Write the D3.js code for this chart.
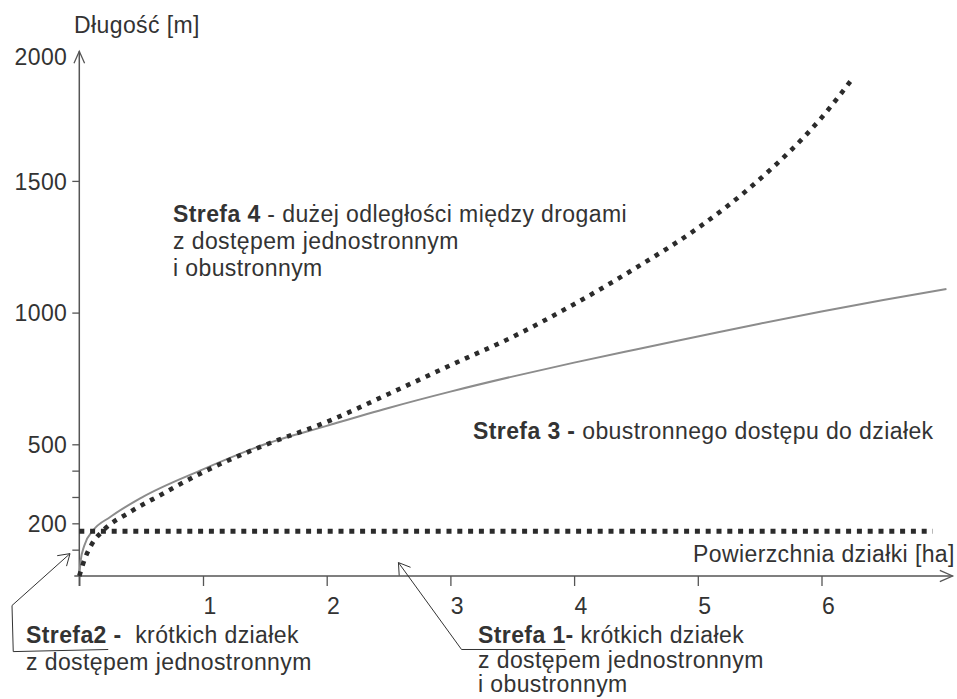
<!DOCTYPE html>
<html><head><meta charset="utf-8">
<script src="https://cdn.jsdelivr.net/npm/d3@7"></script>
<style>
html,body{margin:0;padding:0;background:#fff;}
svg text{font-family:"Liberation Sans",Arial,Helvetica,sans-serif;font-size:23px;letter-spacing:0.4px;fill:#333;white-space:pre;}
</style></head><body>
<svg id="c" width="957" height="699"></svg>
<script>
// ---- data ----
const zone3Ha     = [0, 0.01, 0.04, 0.11, 0.25, 0.5, 1, 1.5, 2, 2.5, 3, 3.5, 4, 4.5, 5, 5.5, 6, 6.5, 7.01];
const zone3Length = [0, 55, 115, 172, 224, 297, 405, 500, 570, 638, 700, 757, 810, 860, 909, 958, 1004, 1048, 1090];
const zone4Ha     = [0, 0.05, 0.1, 0.2, 0.4, 0.65, 1, 1.5, 2, 2.5, 3, 3.5, 4, 4.5, 5, 5.5, 6, 6.26];
const zone4Length = [0, 72, 120, 176, 240, 306, 394, 497, 585, 691, 800, 907, 1032, 1170, 1321, 1506, 1740, 1894];
const shortHa     = [0, 6.9];
const shortLength = [170, 170];
const xTickValues = [0, 1, 2, 3, 4, 5, 6];
const xTickLabels = ["", "1", "2", "3", "4", "5", "6"];
const yTickValues = [100, 200, 300, 400, 500, 1000, 1500, 2000];
const yTickLabels = ["", "200", "", "", "500", "1000", "1500", "2000"];
const yAxisTitle = "Długość [m]";
const xAxisTitle = "Powierzchnia działki [ha]";

// ---- scales ----
const svg = d3.select("#c");
const x = d3.scaleLinear().domain([0, 7]).range([79.3, 945.2]);
const y = d3.scaleLinear().domain([0, 2000]).range([576, 49.2]);

const axisColor = "#555";

// x axis
const xAxis = d3.axisBottom(x).tickValues(xTickValues).tickSize(10)
  .tickFormat((d, i) => xTickLabels[i]);
const gx = svg.append("g").attr("transform", `translate(0,${y(0)})`).call(xAxis);
gx.select(".domain").remove();
gx.selectAll(".tick line").attr("stroke", axisColor).attr("stroke-width", 1.3);
gx.selectAll(".tick text").attr("fill", "#333").attr("font-size", null)
  .attr("font-family", null).attr("y", 38).attr("dy", 0).attr("x", 6.5);

// y axis
const yAxis = d3.axisLeft(y).tickValues(yTickValues).tickSize(7).tickPadding(5)
  .tickFormat((d, i) => yTickLabels[i]);
const gy = svg.append("g").attr("transform", `translate(${x(0)},0)`).call(yAxis);
gy.select(".domain").remove();
gy.selectAll(".tick line").attr("stroke", axisColor).attr("stroke-width", 1.3)
  .filter(d => d === 2000).remove();
gy.selectAll(".tick text").attr("fill", "#333").attr("font-size", null)
  .attr("font-family", null).attr("dy", "0.36em")
  .filter(d => d === 2000).attr("dy", "0.68em");

// axis lines with open arrows
function arrowHead(g, tip, from, len, ang, color, w) {
  const a = Math.atan2(from[1] - tip[1], from[0] - tip[0]);
  const p1 = [tip[0] + len * Math.cos(a + ang), tip[1] + len * Math.sin(a + ang)];
  const p2 = [tip[0] + len * Math.cos(a - ang), tip[1] + len * Math.sin(a - ang)];
  g.append("path").attr("d", `M${p1}L${tip}L${p2}`).attr("fill", "none")
    .attr("stroke", color).attr("stroke-width", w);
}
const axes = svg.append("g");
const xStart = [x(0) - 5, y(0)], xEnd = [x(7.06), y(0)];
axes.append("line").attr("x1", xStart[0]).attr("y1", xStart[1]).attr("x2", xEnd[0]).attr("y2", xEnd[1])
  .attr("stroke", axisColor).attr("stroke-width", 1.5);
arrowHead(axes, xEnd, xStart, 14, 0.42, axisColor, 1.3);
const yStart = [x(0), y(0) + 10], yEnd = [x(0), y(1992)];
axes.append("line").attr("x1", yStart[0]).attr("y1", yStart[1]).attr("x2", yEnd[0]).attr("y2", yEnd[1])
  .attr("stroke", axisColor).attr("stroke-width", 1.5);
arrowHead(axes, yEnd, yStart, 13, 0.42, axisColor, 1.3);

// ---- series ----
const line = d3.line().x(d => x(d[0])).y(d => y(d[1])).curve(d3.curveMonotoneX);

svg.append("path").datum(zone3Ha.map((h, i) => [h, zone3Length[i]]))
  .attr("d", line).attr("fill", "none").attr("stroke", "#8c8c8c").attr("stroke-width", 2);

svg.append("path").datum(shortHa.map((h, i) => [h, shortLength[i]]))
  .attr("d", line).attr("fill", "none").attr("stroke", "#2b2b2b")
  .attr("stroke-width", 5).attr("stroke-dasharray", "5,5.8");

svg.append("path").datum(zone4Ha.map((h, i) => [h, zone4Length[i]]))
  .attr("d", line).attr("fill", "none").attr("stroke", "#2b2b2b")
  .attr("stroke-width", 4.6).attr("stroke-dasharray", "4.6,6.2");

// ---- annotation leaders (in data units) ----
const lead1 = [[2.58, 51], [3.09, -279], [3.93, -279]];
const lead2 = [[-0.075, 85], [-0.544, -112], [-0.534, -287], [0.234, -279]];
const lg = svg.append("g");
[lead1, lead2].forEach(L => {
  const pts = L.map(p => [x(p[0]), y(p[1])]);
  lg.append("path").attr("d", d3.line()(pts)).attr("fill", "none")
    .attr("stroke", "#333").attr("stroke-width", 1);
  arrowHead(lg, pts[0], pts[1], 13, 0.57, "#333", 1);
});

// ---- texts ----
function multi(xp, yp, lines, lh) {
  lines.forEach((parts, i) => {
    const t = svg.append("text").attr("x", xp).attr("y", yp + i * lh);
    parts.forEach(p => t.append("tspan").attr("font-weight", p[1] ? "bold" : "normal").text(p[0]));
  });
}
svg.append("text").attr("x", 74).attr("y", 33).text(yAxisTitle);
svg.append("text").attr("x", 693).attr("y", 562).text(xAxisTitle);

multi(173, 222, [
  [["Strefa 4", true], [" - dużej odległości między drogami", false]],
  [["z dostępem jednostronnym", false]],
  [["i obustronnym", false]]
], 27);
multi(473, 439, [[["Strefa 3 -", true], [" obustronnego dostępu do działek", false]]], 27);
multi(26, 643, [
  [["Strefa2 -", true], ["  krótkich działek", false]],
  [["z dostępem jednostronnym", false]]
], 27);
multi(478, 643, [
  [["Strefa 1-", true], [" krótkich działek", false]],
  [["z dostępem jednostronnym", false]],
  [["i obustronnym", false]]
], 24.5);
</script>
</body></html>
